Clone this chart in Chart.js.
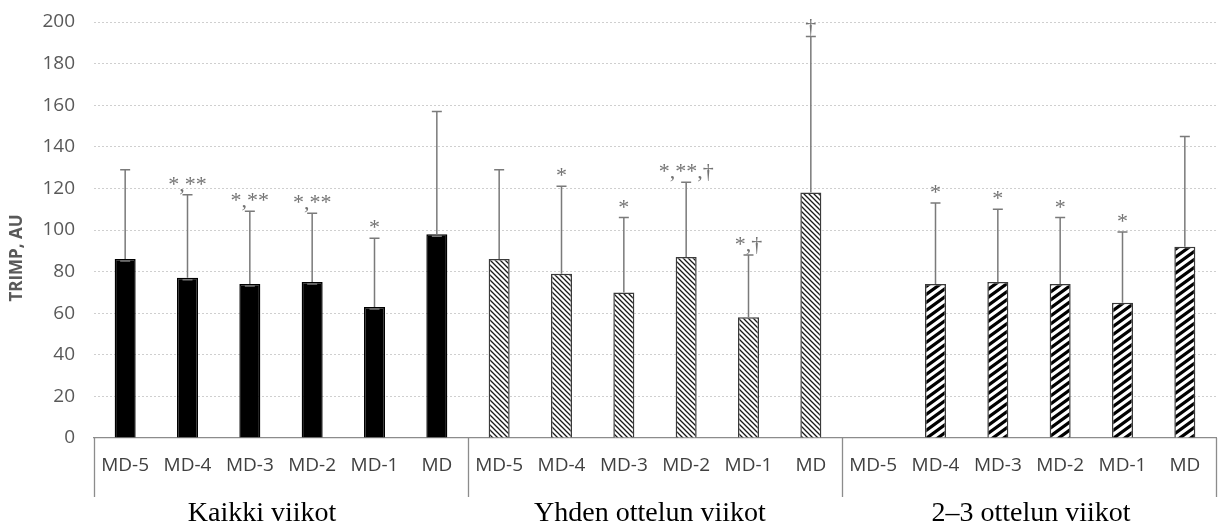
<!DOCTYPE html>
<html lang="fi">
<head>
<meta charset="utf-8">
<title>TRIMP, AU</title>
<script src="https://cdn.jsdelivr.net/npm/chart.js@4/dist/chart.umd.min.js"></script>
<style>
  html, body { margin: 0; padding: 0; background: #ffffff; }
  #wrap { width: 1219px; height: 526px; }
</style>
</head>
<body>
<div id="wrap"><canvas id="chart" width="1219" height="526"></canvas></div>
<script>
// Training days relative to match day
const categories = ['MD-5', 'MD-4', 'MD-3', 'MD-2', 'MD-1', 'MD'];
const groupNames = ['Kaikki viikot', 'Yhden ottelun viikot', '2–3 ottelun viikot'];

// Mean TRIMP (AU) per day
const kaikkiMean = [86, 77, 74, 75, 63, 98];
const yhdenMean  = [86, 79, 70, 87, 58, 118];
const kahdenMean = [null, 74, 75, 74, 65, 92];

// Standard deviations (upper error bars)
const kaikkiSd = [43, 40, 35, 33, 33, 59];
const yhdenSd  = [43, 42, 36, 36, 30, 75];
const kahdenSd = [null, 39, 35, 32, 34, 53];

// Significance markers above the error bars
const kaikkiSig = ['', '*,**', '*,**', '*,**', '*', ''];
const yhdenSig  = ['', '*', '*', '*,**,†', '*,†', '†'];
const kahdenSig = ['', '*', '*', '*', '*', ''];

// Y axis ticks
const yMin = 0, yMax = 200, yStep = 20;
const yTitle = 'TRIMP, AU';

const labels = [].concat(categories, categories, categories);
const values = [].concat(kaikkiMean, yhdenMean, kahdenMean);
const errors = [].concat(kaikkiSd, yhdenSd, kahdenSd);
const marks = [].concat(kaikkiSig, yhdenSig, kahdenSig);

// Fill patterns
function makeTile(w, h, draw) {
  const c = document.createElement('canvas');
  c.width = w; c.height = h;
  const g = c.getContext('2d');
  g.fillStyle = '#ffffff';
  g.fillRect(0, 0, w, h);
  draw(g, w, h);
  return g.createPattern(c, 'repeat');
}
// thin lines falling to the right
const fineHatch = makeTile(5, 5, (g, w, h) => {
  g.strokeStyle = '#1a1a1a';
  g.lineWidth = 1.3;
  g.beginPath();
  [-w, 0, w].forEach(dx => {
    g.moveTo(dx - 1, -1); g.lineTo(dx + w + 1, h + 1);
  });
  g.stroke();
});
// bold lines rising to the right
const boldHatch = makeTile(11, 8, (g, w, h) => {
  g.strokeStyle = '#000000';
  g.lineWidth = 3.2;
  g.beginPath();
  [-w, 0, w].forEach(dx => {
    g.moveTo(dx - w, 2 * h); g.lineTo(dx + 2 * w, -h);
  });
  g.stroke();
});
const groupFills = ['#000000', fineHatch, boldHatch];
const groupBorders = ['#000000', '#3a3a3a', '#3a3a3a'];

const bgColors = [], bdColors = [];
groupNames.forEach((_, gi) => categories.forEach(() => {
  bgColors.push(groupFills[gi]);
  bdColors.push(groupBorders[gi]);
}));

const AXIS_GREY = '#8c8c8c';
const SANS = '"Open Sans", "Noto Sans", sans-serif';
const SERIF = '"Liberation Serif", "Times New Roman", serif';

// Error bars, significance markers, category boxes and group captions
const decorations = {
  id: 'decorations',
  afterDatasetsDraw(chart) {
    const ctx = chart.ctx;
    const meta = chart.getDatasetMeta(0);
    const y = chart.scales.y;
    ctx.save();
    values.forEach((v, i) => {
      if (v === null || errors[i] === null) return;
      const x = meta.data[i].x;
      const yb = y.getPixelForValue(v);
      const yt = y.getPixelForValue(v + errors[i]);
      ctx.strokeStyle = '#7a7a7a';
      ctx.lineWidth = 1.5;
      ctx.beginPath();
      ctx.moveTo(x, yb);
      ctx.lineTo(x, yt);
      ctx.moveTo(x - 5, yt);
      ctx.lineTo(x + 5, yt);
      if (i < categories.length) {
        ctx.moveTo(x - 5, yb + 2);
        ctx.lineTo(x + 5, yb + 2);
      }
      ctx.stroke();
      if (marks[i]) {
        ctx.fillStyle = '#737373';
        ctx.font = '22px ' + SERIF;
        ctx.textAlign = 'center';
        ctx.textBaseline = 'alphabetic';
        ctx.fillText(marks[i], x, yt - 4);
      }
    });
    ctx.restore();
  },
  afterDraw(chart) {
    const ctx = chart.ctx;
    const xs = chart.scales.x;
    const area = chart.chartArea;
    const n = categories.length;
    const boxBottom = area.bottom + 59;
    ctx.save();
    // group separators below the axis
    ctx.strokeStyle = AXIS_GREY;
    ctx.lineWidth = 1.3;
    ctx.beginPath();
    for (let gi = 0; gi <= groupNames.length; gi++) {
      let x;
      if (gi === 0) x = area.left;
      else if (gi === groupNames.length) x = area.right;
      else x = (xs.getPixelForValue(gi * n - 1) + xs.getPixelForValue(gi * n)) / 2;
      x = Math.round(x) + 0.5;
      ctx.moveTo(x, area.bottom);
      ctx.lineTo(x, boxBottom);
    }
    ctx.stroke();
    // group captions
    const shifts = [-19, -5, 2];
    ctx.fillStyle = '#000000';
    ctx.font = '28px ' + SERIF;
    ctx.textAlign = 'center';
    ctx.textBaseline = 'alphabetic';
    groupNames.forEach((name, gi) => {
      const x0 = xs.getPixelForValue(gi * n);
      const x1 = xs.getPixelForValue(gi * n + n - 1);
      ctx.fillText(name, (x0 + x1) / 2 + shifts[gi], 521);
    });
    // y axis title
    ctx.translate(17, 258);
    ctx.rotate(-Math.PI / 2);
    ctx.fillStyle = '#595959';
    ctx.font = 'bold 17px ' + SANS;
    ctx.textAlign = 'center';
    ctx.textBaseline = 'middle';
    ctx.fillText(yTitle, 0, 0);
    ctx.restore();
  }
};

new Chart(document.getElementById('chart'), {
  type: 'bar',
  data: {
    labels: labels,
    datasets: [{
      data: values,
      backgroundColor: bgColors,
      borderColor: bdColors,
      borderWidth: 1.5,
      borderSkipped: 'bottom',
      categoryPercentage: 1,
      barPercentage: 0.337
    }]
  },
  options: {
    responsive: false,
    animation: false,
    devicePixelRatio: 1,
    layout: { padding: { top: 22, right: 3, bottom: 0, left: 0 } },
    plugins: {
      legend: { display: false },
      tooltip: { enabled: false }
    },
    scales: {
      x: {
        offset: true,
        grid: { display: false, drawTicks: false },
        border: { display: true, color: AXIS_GREY, width: 1.3 },
        ticks: {
          color: '#404040',
          font: { family: SANS, size: 19 },
          padding: 16,
          maxRotation: 0,
          autoSkip: false
        },
        afterFit(scale) { scale.height = 88; }
      },
      y: {
        min: yMin,
        max: yMax,
        grid: {
          drawTicks: false,
          color: (c) => (c.tick && c.tick.value === 0) ? 'rgba(0,0,0,0)' : '#cfcfcf',
          lineWidth: 1
        },
        border: { display: false, dash: [2, 2] },
        ticks: {
          stepSize: yStep,
          color: '#595959',
          font: { family: SANS, size: 19 },
          padding: 19
        },
        afterFit(scale) {
          scale.width = 94;
          scale.paddingTop = 0;
          scale.paddingBottom = 0;
        }
      }
    }
  },
  plugins: [decorations]
});
</script>
</body>
</html>
